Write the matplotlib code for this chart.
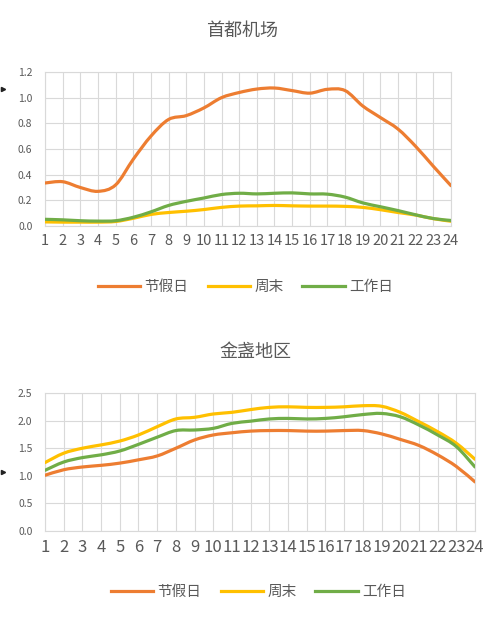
import matplotlib
matplotlib.use("Agg")
import matplotlib.pyplot as plt
import numpy as np
from matplotlib.path import Path
from matplotlib.patches import PathPatch
from matplotlib.lines import Line2D

plt.rcParams['font.family'] = ['Noto Sans CJK SC', 'DejaVu Sans']

hours = list(range(1, 25))
series_names = ["节假日", "周末", "工作日"]
colors = ["#ED7D31", "#FFC000", "#70AD47"]

# 首都机场
airport_holiday = [0.335, 0.345, 0.30, 0.27, 0.32, 0.52, 0.70, 0.83, 0.86, 0.92, 1.00, 1.04,
                   1.067, 1.075, 1.055, 1.035, 1.065, 1.055, 0.935, 0.845, 0.755, 0.62, 0.465, 0.314]
airport_weekend = [0.032, 0.030, 0.030, 0.030, 0.035, 0.060, 0.090, 0.105, 0.115, 0.128, 0.145, 0.155,
                   0.157, 0.160, 0.157, 0.155, 0.155, 0.153, 0.145, 0.127, 0.105, 0.085, 0.057, 0.037]
airport_workday = [0.052, 0.048, 0.041, 0.038, 0.041, 0.068, 0.110, 0.160, 0.192, 0.218, 0.245, 0.255,
                   0.250, 0.255, 0.258, 0.250, 0.248, 0.225, 0.180, 0.150, 0.120, 0.087, 0.058, 0.043]

# 金盏地区
jinzhan_holiday = [1.01, 1.11, 1.16, 1.19, 1.23, 1.29, 1.36, 1.50, 1.65, 1.74, 1.78, 1.81,
                   1.82, 1.82, 1.81, 1.81, 1.82, 1.82, 1.76, 1.66, 1.55, 1.38, 1.17, 0.89]
jinzhan_weekend = [1.24, 1.41, 1.50, 1.56, 1.63, 1.74, 1.89, 2.03, 2.06, 2.12, 2.15, 2.20,
                   2.24, 2.25, 2.24, 2.24, 2.25, 2.27, 2.26, 2.15, 1.98, 1.80, 1.59, 1.30]
jinzhan_workday = [1.10, 1.25, 1.33, 1.38, 1.45, 1.57, 1.70, 1.82, 1.83, 1.86, 1.95, 1.99,
                   2.03, 2.04, 2.03, 2.04, 2.07, 2.11, 2.13, 2.07, 1.92, 1.74, 1.53, 1.16]

grey = "#595959"
grid_c = "#D9D9D9"


def smooth_line(ax, x, y, color, label):
    # cubic bezier through every point (catmull-rom style handles)
    x = np.asarray(x, float)
    y = np.asarray(y, float)
    px = np.concatenate([[x[0]], x, [x[-1]]])
    py = np.concatenate([[y[0]], y, [y[-1]]])
    verts = [(x[0], y[0])]
    codes = [Path.MOVETO]
    for i in range(1, len(x)):
        c1 = (px[i] + (px[i + 1] - px[i - 1]) / 6, py[i] + (py[i + 1] - py[i - 1]) / 6)
        c2 = (px[i + 1] - (px[i + 2] - px[i]) / 6, py[i + 1] - (py[i + 2] - py[i]) / 6)
        verts += [c1, c2, (x[i], y[i])]
        codes += [Path.CURVE4] * 3
    ax.add_patch(PathPatch(Path(verts, codes), facecolor="none", edgecolor=color,
                           lw=2.3, capstyle="round", joinstyle="round", zorder=3))
    return Line2D([], [], color=color, lw=2.3, label=label)


def draw(ax, data, ymax, ystep, xfs, yfs):
    handles = []
    for vals, c, name in zip(data, colors, series_names):
        handles.append(smooth_line(ax, hours, vals, c, name))
    ax.set_xlim(1, 24)
    ax.set_ylim(0, ymax)
    ax.set_xticks(hours)
    ax.set_xticklabels([str(h) for h in hours])
    ax.set_yticks(np.arange(0, ymax + 1e-9, ystep))
    ax.set_yticklabels([f"{v:.1f}" for v in np.arange(0, ymax + 1e-9, ystep)])
    ax.grid(True, color=grid_c, lw=0.8)
    ax.set_axisbelow(True)
    for s in ax.spines.values():
        s.set_color(grid_c)
        s.set_linewidth(0.8)
    ax.tick_params(axis="x", length=0, pad=6, labelsize=xfs, labelcolor=grey)
    ax.tick_params(axis="y", length=0, pad=9, labelsize=yfs, labelcolor=grey)
    return handles


fig = plt.figure(figsize=(5, 6.2), dpi=100)

ax1 = fig.add_axes([0.09, 0.6355, 0.812, 0.2484])
h1 = draw(ax1, [airport_holiday, airport_weekend, airport_workday], 1.2, 0.2, 10.5, 7.5)
fig.text(0.484, 0.950, "首都机场", ha="center", va="center", fontsize=13, color=grey)
fig.legend(handles=h1, loc="center", bbox_to_anchor=(0.491, 0.537), ncol=3, frameon=False,
           fontsize=10.5, labelcolor=grey, handlelength=2.9, handletextpad=0.3,
           columnspacing=1.3)

ax2 = fig.add_axes([0.09, 0.1435, 0.86, 0.2226])
h2 = draw(ax2, [jinzhan_holiday, jinzhan_weekend, jinzhan_workday], 2.5, 0.5, 12, 7.5)
fig.text(0.511, 0.432, "金盏地区", ha="center", va="center", fontsize=13, color=grey)
fig.legend(handles=h2, loc="center", bbox_to_anchor=(0.517, 0.045), ncol=3, frameon=False,
           fontsize=10.5, labelcolor=grey, handlelength=2.9, handletextpad=0.3,
           columnspacing=1.3)

# small pointer marks on the left edge
for yf in (1 - 89 / 620, 1 - 472 / 620):
    fig.add_artist(Line2D([0.006], [yf], transform=fig.transFigure, marker=">",
                          markersize=3, color="#222222", lw=0))

fig.savefig("out.png", dpi=100, facecolor="white")
